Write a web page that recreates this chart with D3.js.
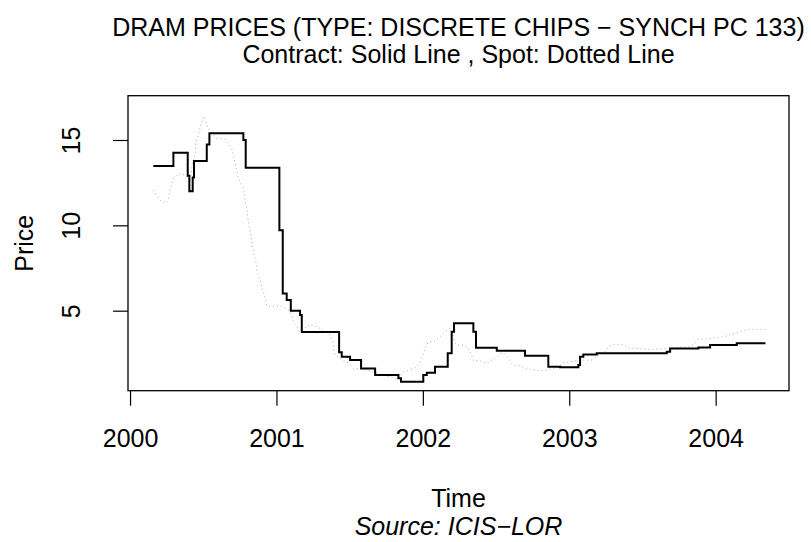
<!DOCTYPE html>
<html>
<head>
<meta charset="utf-8">
<script src="https://cdn.jsdelivr.net/npm/d3@7"></script>
<style>
  body { margin: 0; background: #fff; }
  svg text { font-family: "Liberation Sans", Arial, sans-serif; fill: #000; }
</style>
</head>
<body>
<div id="chart"></div>
<script>
// contract price: step points (decimal year, price)
const contractTime = [2000.159, 2000.296, 2000.394, 2000.405, 2000.428, 2000.437, 2000.524, 2000.542,
    2000.774, 2000.790, 2001.020, 2001.043, 2001.070, 2001.098, 2001.161, 2001.173, 2001.428, 2001.446,
    2001.503, 2001.578, 2001.674, 2001.833, 2001.851, 2002.003, 2002.027, 2002.083, 2002.170, 2002.197,
    2002.213, 2002.345, 2002.363, 2002.505, 2002.698, 2002.857, 2002.937, 2003.062, 2003.074, 2003.096,
    2003.188, 2003.666, 2003.689, 2003.882, 2003.962, 2004.144, 2004.340];
const contractPrice = [13.47, 14.25, 12.9, 12.0, 12.8, 13.77, 14.74, 15.39,
    15.0, 13.37, 9.72, 6.0, 5.62, 5.0, 4.75, 3.75, 2.56, 2.30,
    2.11, 1.62, 1.23, 1.04, 0.84, 1.23, 1.37, 1.72, 2.5, 3.77,
    4.26, 3.77, 2.83, 2.65, 2.36, 1.72, 1.68, 1.82, 2.30, 2.44,
    2.5, 2.6, 2.79, 2.85, 2.99, 3.09, 3.09];

// spot price (dotted)
const spotTime = [2000.159, 2000.205, 2000.239, 2000.262, 2000.273, 2000.296, 2000.330, 2000.376, 2000.410,
    2000.428, 2000.444, 2000.451, 2000.467, 2000.485, 2000.501, 2000.519, 2000.546, 2000.592, 2000.649,
    2000.695, 2000.717, 2000.740, 2000.774, 2000.786, 2000.799, 2000.808, 2000.823, 2000.833, 2000.847,
    2000.861, 2000.871, 2000.888, 2000.906, 2000.922, 2000.934, 2001.036, 2001.081, 2001.104, 2001.115,
    2001.139, 2001.156, 2001.230, 2001.286, 2001.366, 2001.385, 2001.400, 2001.446, 2001.480, 2001.525,
    2001.594, 2001.662, 2001.730, 2001.776, 2001.824, 2001.867, 2001.935, 2001.960, 2001.992, 2002.015,
    2002.038, 2002.083, 2002.117, 2002.152, 2002.181, 2002.206, 2002.220, 2002.242, 2002.288, 2002.311,
    2002.334, 2002.345, 2002.391, 2002.436, 2002.471, 2002.493, 2002.527, 2002.550, 2002.573, 2002.596,
    2002.618, 2002.664, 2002.710, 2002.755, 2002.823, 2002.869, 2002.915, 2002.960, 2003.005, 2003.051,
    2003.096, 2003.154, 2003.199, 2003.245, 2003.267, 2003.301, 2003.347, 2003.381, 2003.415, 2003.484,
    2003.529, 2003.598, 2003.666, 2003.734, 2003.825, 2003.866, 2003.882, 2003.939, 2004.007, 2004.076,
    2004.144, 2004.189, 2004.235, 2004.326, 2004.340];
const spotPrice = [12.07, 11.48, 11.29, 11.58, 12.07, 12.75, 13.0, 12.95, 12.55,
    13.72, 14.2, 14.9, 15.3, 15.97, 16.4, 16.0, 15.5, 15.1, 15.04,
    14.5, 13.7, 12.75, 12.17, 11.48, 10.9, 10.2, 9.5, 8.95, 8.26,
    7.77, 7.19, 6.8, 6.25, 5.78, 5.27, 5.27, 5.04, 4.75, 4.3,
    4.1, 3.77, 4.2, 4.02, 3.57, 3.09, 2.45, 2.11, 2.01, 1.62,
    1.56, 1.42, 1.23, 1.13, 0.95, 1.4, 1.6, 1.72, 2.21, 2.79,
    3.18, 3.2, 3.47, 3.77, 3.97, 3.6, 3.09, 2.99, 2.99, 2.79,
    2.4, 2.07, 2.05, 1.91, 2.11, 2.21, 2.5, 2.54, 2.30, 2.01,
    1.82, 1.76, 1.62, 1.52, 1.48, 1.58, 1.62, 1.95, 2.01, 2.07,
    2.11, 2.11, 2.35, 2.6, 2.89, 3.03, 3.03, 2.95, 2.79, 2.79,
    2.73, 2.75, 2.79, 2.85, 2.89, 3.15, 3.32, 3.34, 3.42, 3.53,
    3.71, 3.83, 3.91, 3.91, 3.91];

const xTicks = [2000, 2001, 2002, 2003, 2004];
const yTicks = [5, 10, 15];

const width = 811, height = 542;
const plot = { left: 128, right: 789, top: 95.7, bottom: 390.7 };
const fontSize = 25;

const svg = d3.select("#chart").append("svg")
    .attr("width", width)
    .attr("height", height);

const x = d3.scaleLinear()
    .domain([1999.986, 2004.501])
    .range([plot.left, plot.right]);

const y = d3.scaleLinear()
    .domain([0.313, 17.595])
    .range([plot.bottom, plot.top]);

const contract = contractTime.map((t, i) => ({ t: t, v: contractPrice[i] }));
const spot = spotTime.map((t, i) => ({ t: t, v: spotPrice[i] }));

// spot - dotted grey
svg.append("path")
    .datum(spot)
    .attr("fill", "none")
    .attr("stroke", "#aaaaaa")
    .attr("stroke-width", 1)
    .attr("stroke-dasharray", "1,3")
    .attr("d", d3.line().x(d => x(d.t)).y(d => y(d.v)));

// contract - solid step line
svg.append("path")
    .datum(contract)
    .attr("fill", "none")
    .attr("stroke", "#000")
    .attr("stroke-width", 2)
    .attr("d", d3.line().curve(d3.curveStepAfter).x(d => x(d.t)).y(d => y(d.v)));

// box
svg.append("rect")
    .attr("x", plot.left)
    .attr("y", plot.top)
    .attr("width", plot.right - plot.left)
    .attr("height", plot.bottom - plot.top)
    .attr("fill", "none")
    .attr("stroke", "#000")
    .attr("stroke-width", 1.3);

// x axis
const gx = svg.append("g")
    .attr("transform", `translate(0, ${plot.bottom})`)
    .call(d3.axisBottom(x).tickValues(xTicks).tickSize(15).tickPadding(24).tickFormat(d3.format("d")));
gx.select(".domain").remove();
gx.selectAll("line").attr("stroke-width", 1.2);
gx.selectAll("text").style("font-size", fontSize + "px").attr("font-family", null);

// y axis
const gy = svg.append("g")
    .attr("transform", `translate(${plot.left}, 0)`)
    .call(d3.axisLeft(y).tickValues(yTicks).tickSize(15).tickFormat(d3.format("d")));
gy.select(".domain").remove();
gy.selectAll("line").attr("stroke-width", 1.2);
gy.selectAll("text")
    .style("font-size", fontSize + "px")
    .attr("font-family", null)
    .attr("x", null)
    .attr("dy", null)
    .attr("text-anchor", "middle")
    .attr("transform", "translate(-57, 0) rotate(-90)")
    .attr("dominant-baseline", "central");

// titles
const cx = (plot.left + plot.right) / 2;
svg.append("text")
    .attr("x", cx).attr("y", 36)
    .attr("text-anchor", "middle")
    .style("font-size", fontSize + "px")
    .text("DRAM PRICES (TYPE: DISCRETE CHIPS \u2212 SYNCH PC 133)");
svg.append("text")
    .attr("x", cx).attr("y", 63)
    .attr("text-anchor", "middle")
    .style("font-size", fontSize + "px")
    .text("Contract: Solid Line , Spot: Dotted Line");

svg.append("text")
    .attr("x", cx).attr("y", 507)
    .attr("text-anchor", "middle")
    .style("font-size", fontSize + "px")
    .text("Time");
svg.append("text")
    .attr("x", cx).attr("y", 535)
    .attr("text-anchor", "middle")
    .style("font-size", fontSize + "px")
    .style("font-style", "italic")
    .text("Source: ICIS\u2212LOR");

svg.append("text")
    .attr("transform", `translate(33, ${(plot.top + plot.bottom) / 2}) rotate(-90)`)
    .attr("text-anchor", "middle")
    .style("font-size", fontSize + "px")
    .text("Price");
</script>
</body>
</html>
